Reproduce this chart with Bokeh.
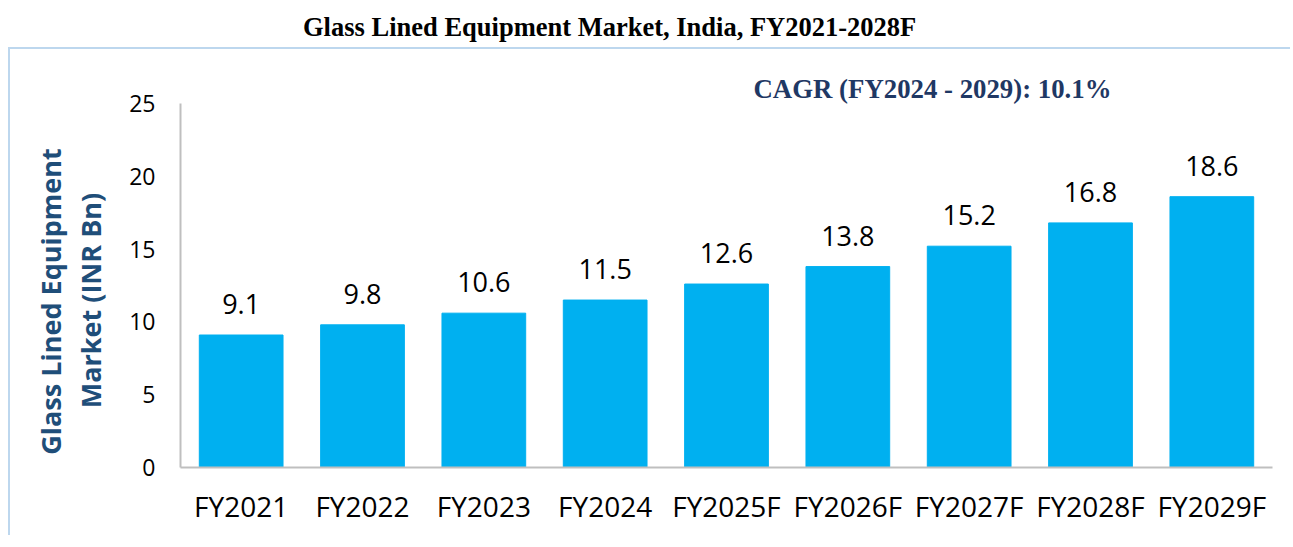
import math
from bokeh.plotting import figure
from bokeh.models import ColumnDataSource, FactorRange, Range1d, FixedTicker, Label, Div
from bokeh.layouts import column, row
from bokeh.core.properties import value
from bokeh.embed import file_html
from bokeh.resources import INLINE

# ---- data ----
categories = ["FY2021", "FY2022", "FY2023", "FY2024", "FY2025F",
              "FY2026F", "FY2027F", "FY2028F", "FY2029F"]
market_values = [9.1, 9.8, 10.6, 11.5, 12.6, 13.8, 15.2, 16.8, 18.6]
value_labels = ["9.1", "9.8", "10.6", "11.5", "12.6", "13.8", "15.2", "16.8", "18.6"]
y_ticks = [0, 5, 10, 15, 20, 25]

title_text = "Glass Lined Equipment Market, India, FY2021-2028F"
cagr_text = "CAGR (FY2024 - 2029): 10.1%"
ylabel_line1 = "Glass Lined Equipment"
ylabel_line2 = "Market (INR Bn)"

BAR = "#00B0F0"
NAVY = "#1F3864"
YLAB = "#1F4E79"
AXIS = "#BFBFBF"
BOX = "#BDD7EE"

source = ColumnDataSource(dict(cat=categories, val=market_values, lab=value_labels))

title_div = Div(
    text=('<div style="font-family:\'Liberation Serif\',serif;font-weight:bold;'
          'font-size:26.5px;text-align:left;padding-left:295px;line-height:39px;'
          'color:#000;white-space:nowrap;">' + title_text + '</div>'),
    width=1204, height=39, margin=(0, 0, 0, 0),
)

# left panel holding the two-line y-axis title
lab_fig = figure(
    width=110, height=488, x_range=Range1d(0, 110), y_range=Range1d(0, 488),
    x_axis_type=None, y_axis_type=None, min_border=0,
    output_backend="svg", toolbar_location=None, outline_line_color=None,
    background_fill_color="white", border_fill_color="white",
    margin=(0, 0, 0, 0),
    styles={"border-top": "2px solid " + BOX, "border-left": "2px solid " + BOX},
)
lab_fig.xgrid.grid_line_color = None
lab_fig.ygrid.grid_line_color = None
common = dict(x_units="screen", y_units="screen", text_align="center",
              text_baseline="middle")
lab_fig.add_layout(Label(x=40, y=166, text=ylabel_line1, angle=math.pi / 2,
                         text_font="Open Sans", text_font_style="bold",
                         text_font_size="27px", text_color=YLAB, **common))
lab_fig.add_layout(Label(x=79.5, y=167, text=ylabel_line2, angle=math.pi / 2,
                         text_font="Open Sans", text_font_style="bold",
                         text_font_size="27px", text_color=YLAB, **common))

p = figure(
    x_range=FactorRange(factors=categories),
    y_range=Range1d(0, 28.709),
    width=1172, height=488,
    min_border_left=62, min_border_top=0, min_border_right=18, min_border_bottom=70,
    output_backend="svg", toolbar_location=None,
    background_fill_color="white", border_fill_color="white",
    outline_line_color=None,
    margin=(0, 0, 0, 0),
    styles={"border-top": "2px solid " + BOX},
)

p.vbar(x="cat", top="val", width=0.69, source=source,
       fill_color=BAR, line_color=BAR)

p.text(x="cat", y="val", text="lab", source=source,
       text_align="center", text_baseline="alphabetic", y_offset=-31,
       text_font=value("Open Sans"), text_font_size="27px", text_color="black")

p.xgrid.grid_line_color = None
p.ygrid.grid_line_color = None

for ax in (p.xaxis, p.yaxis):
    ax.axis_line_color = AXIS
    ax.axis_line_width = 2
    ax.major_tick_line_color = None
    ax.minor_tick_line_color = None
    ax.major_tick_out = 0
    ax.major_tick_in = 0
    ax.major_label_text_font = "Open Sans"
    ax.major_label_text_color = "black"

p.yaxis.ticker = FixedTicker(ticks=y_ticks)
p.yaxis.bounds = (0, 25)
p.yaxis.major_label_text_font_size = "23px"
p.yaxis.major_label_standoff = 25
p.xaxis.major_label_text_font_size = "28px"
p.xaxis.major_label_standoff = 19

p.add_layout(Label(x=752, y=379, text=cagr_text,
                   text_font="Liberation Serif", text_font_style="bold",
                   text_font_size="26.8px", text_color=NAVY, **common))

layout = column(title_div, row(lab_fig, p, spacing=0), spacing=0,
                margin=(8, 0, 0, 8))

open("out.html", "w").write(file_html(layout, INLINE))
